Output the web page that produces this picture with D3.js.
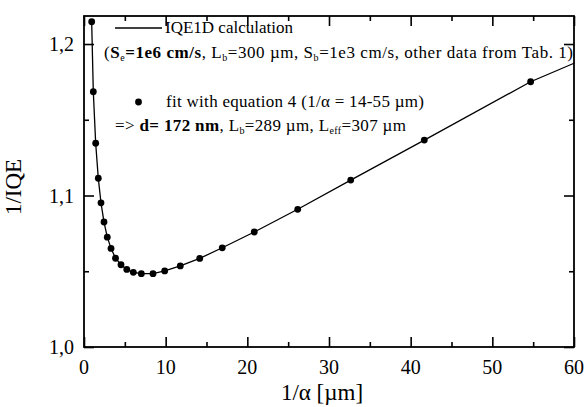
<!DOCTYPE html>
<html>
<head>
<meta charset="utf-8">
<script src="https://cdn.jsdelivr.net/npm/d3@7"></script>
<style>
  body { margin: 0; background: #fff; }
  svg, svg text, svg tspan { font-family: "Liberation Serif", "Times New Roman", serif !important; fill: #000; }
</style>
</head>
<body>
<div id="chart"></div>
<script>
// fit points (1/alpha in um, 1/IQE)
var fitX = [0.94, 1.14, 1.43, 1.75, 2.08, 2.45, 2.85, 3.31, 3.86, 4.53, 5.24, 6.04, 7.02, 8.45, 9.88, 11.79, 14.17, 16.93, 20.85, 26.17, 32.66, 41.67, 54.69];
var fitY = [1.2147, 1.1685, 1.1345, 1.1114, 1.0952, 1.0825, 1.0725, 1.0651, 1.0586, 1.0543, 1.0512, 1.0493, 1.0484, 1.0484, 1.0502, 1.0535, 1.0585, 1.0655, 1.0759, 1.0909, 1.1102, 1.1366, 1.1751];

// IQE1D calculation curve
var calcX = [0.94, 1.14, 1.43, 1.75, 2.08, 2.45, 2.85, 3.31, 3.86, 4.53, 5.24, 6.04, 7.02, 8.45, 9.88, 11.79, 14.17, 16.93, 20.85, 26.17, 32.66, 41.67, 54.69, 60];
var calcY = [1.2147, 1.1685, 1.1345, 1.1114, 1.0952, 1.0825, 1.0725, 1.0651, 1.0586, 1.0543, 1.0512, 1.0493, 1.0484, 1.0484, 1.0502, 1.0535, 1.0585, 1.0655, 1.0759, 1.0909, 1.1102, 1.1366, 1.1751, 1.1873];

var xMajor = [0, 10, 20, 30, 40, 50, 60];
var xMinor = [5, 15, 25, 35, 45, 55];
var yMajor = [1.0, 1.1, 1.2];
var yMinor = [1.05, 1.15];

var serif = "Liberation Serif, Times New Roman, serif";

var svgWidth = 586, svgHeight = 407;
var margin = { top: 16, right: 12, bottom: 60, left: 84 };
var width = svgWidth - margin.left - margin.right;
var height = svgHeight - margin.top - margin.bottom;

var svg = d3.select("#chart").append("svg")
  .attr("width", svgWidth)
  .attr("height", svgHeight)
  .attr("font-family", serif);

var g = svg.append("g")
  .attr("transform", `translate(${margin.left}, ${margin.top})`);

var x = d3.scaleLinear().domain([0, 60]).range([0, width]);
var y = d3.scaleLinear().domain([1.0, 1.2185]).range([height, 0]);

var fmt = d => d3.format(".1f")(d).replace(".", ",");

// tick marks, all pointing inwards
function ticks(axisFn, scale, vals, size, tf) {
  var a = g.append("g")
    .attr("transform", tf)
    .call(axisFn(scale).tickValues(vals).tickSize(size).tickFormat(""));
  a.select(".domain").remove();
  a.selectAll("line").attr("stroke", "#000").attr("stroke-width", 1.6);
}
ticks(d3.axisTop, x, xMajor, 10, `translate(0, ${height})`);
ticks(d3.axisTop, x, xMinor, 5, `translate(0, ${height})`);
ticks(d3.axisBottom, x, xMajor, 10, "translate(0, 0)");
ticks(d3.axisBottom, x, xMinor, 5, "translate(0, 0)");
ticks(d3.axisRight, y, yMajor, 10, "translate(0, 0)");
ticks(d3.axisRight, y, yMinor, 5, "translate(0, 0)");
ticks(d3.axisLeft, y, yMajor, 10, `translate(${width}, 0)`);
ticks(d3.axisLeft, y, yMinor, 5, `translate(${width}, 0)`);

// frame
g.append("rect")
  .attr("width", width)
  .attr("height", height)
  .attr("fill", "none")
  .attr("stroke", "#000")
  .attr("stroke-width", 1.8);

// tick labels
g.selectAll(".xlab")
  .data(xMajor)
  .enter()
  .append("text")
  .attr("font-family", serif)
  .attr("x", d => x(d))
  .attr("y", height + 27)
  .attr("text-anchor", "middle")
  .attr("font-size", "20px")
  .text(d => d);

g.selectAll(".ylab")
  .data(yMajor)
  .enter()
  .append("text")
  .attr("font-family", serif)
  .attr("x", -10)
  .attr("y", d => y(d) + 7)
  .attr("text-anchor", "end")
  .attr("font-size", "20px")
  .text(fmt);

// axis titles
svg.append("text")
  .attr("font-family", serif)
  .attr("x", 322)
  .attr("y", 400)
  .attr("text-anchor", "middle")
  .attr("font-size", "23px")
  .text("1/\u03b1 [\u00b5m]");

svg.append("text")
  .attr("font-family", serif)
  .attr("transform", "translate(21, 187) rotate(-90)")
  .attr("text-anchor", "middle")
  .attr("font-size", "23px")
  .text("1/IQE");

// calculation line
var line = d3.line()
  .x((d, i) => x(calcX[i]))
  .y((d, i) => y(calcY[i]));
g.append("path")
  .datum(calcX)
  .attr("d", line)
  .attr("fill", "none")
  .attr("stroke", "#000")
  .attr("stroke-width", 1.3);

// fit points
g.selectAll(".dot")
  .data(fitX)
  .enter()
  .append("circle")
  .attr("cx", d => x(d))
  .attr("cy", (d, i) => y(fitY[i]))
  .attr("r", 3.4)
  .attr("fill", "#000");

// legend
var leg = svg.append("g").attr("font-size", "17px").attr("font-family", serif);
leg.append("line")
  .attr("x1", 115).attr("x2", 162)
  .attr("y1", 28).attr("y2", 28)
  .attr("stroke", "#000").attr("stroke-width", 1.3);
leg.append("text").attr("x", 165).attr("y", 33).text("IQE1D calculation");

var l2 = leg.append("text").attr("x", 104).attr("y", 58)
  .attr("textLength", 469).attr("lengthAdjust", "spacing");
l2.append("tspan").text("(");
l2.append("tspan").attr("font-weight", "bold").text("S");
l2.append("tspan").attr("font-size", "10px").attr("dy", 3).text("e");
l2.append("tspan").attr("dy", -3).attr("font-weight", "bold").text("=1e6 cm/s");
l2.append("tspan").text(", L");
l2.append("tspan").attr("font-size", "10px").attr("dy", 3).text("b");
l2.append("tspan").attr("dy", -3).text("=300 \u00b5m, S");
l2.append("tspan").attr("font-size", "10px").attr("dy", 3).text("b");
l2.append("tspan").attr("dy", -3).text("=1e3 cm/s, other data from Tab. 1)");

leg.append("circle").attr("cx", 138.5).attr("cy", 102).attr("r", 3.4).attr("fill", "#000");
leg.append("text").attr("x", 166).attr("y", 107)
  .attr("textLength", 258).attr("lengthAdjust", "spacing")
  .text("fit with equation 4 (1/\u03b1 = 14-55 \u00b5m)");

var l4 = leg.append("text").attr("x", 115).attr("y", 131)
  .attr("textLength", 291).attr("lengthAdjust", "spacing");
l4.append("tspan").text("=> ");
l4.append("tspan").attr("font-weight", "bold").text("d= 172 nm");
l4.append("tspan").text(",  L");
l4.append("tspan").attr("font-size", "10px").attr("dy", 3).text("b");
l4.append("tspan").attr("dy", -3).text("=289 \u00b5m, L");
l4.append("tspan").attr("font-size", "10px").attr("dy", 3).text("eff");
l4.append("tspan").attr("dy", -3).text("=307 \u00b5m");
</script>
</body>
</html>
